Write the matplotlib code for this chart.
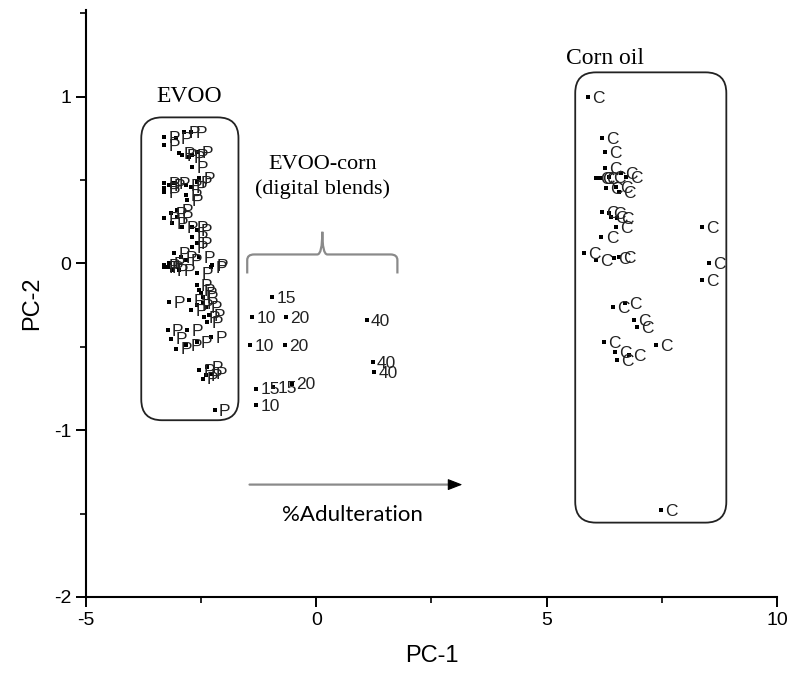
import numpy as np
import matplotlib
matplotlib.use("Agg")
import matplotlib.pyplot as plt
from matplotlib.patches import FancyBboxPatch, PathPatch
from matplotlib.path import Path
from matplotlib.ticker import MultipleLocator

plt.rcParams["axes.unicode_minus"] = False

# PCA scores: EVOO samples (P)
evoo_x = [-3.30, -3.30, -3.04, -2.87, -2.71,
          -2.97, -2.91, -2.76, -2.69, -2.58, -2.69,
          -3.30, -3.30, -3.30, -3.19, -3.08, -2.82, -2.71, -2.60, -2.54, -2.82, -2.80,
          -3.30, -3.15, -3.13, -3.02, -2.91, -2.69, -2.60, -3.02,
          -2.69, -2.60, -2.69,
          -3.08, -2.93, -2.82, -3.30, -3.19, -2.54, -2.28,
          -3.30, -3.23, -3.13, -2.97, -2.58, -2.26,
          -2.60, -2.54, -2.50, -2.47,
          -3.19, -2.76, -2.58, -2.47, -2.39, -2.71, -2.32, -2.37, -2.43,
          -3.23, -3.15, -2.80, -2.28, -3.04, -2.82, -2.60,
          -2.54, -2.47, -2.37, -2.28, -2.39,
          -2.21]
evoo_y = [0.76, 0.71, 0.75, 0.79, 0.79,
          0.66, 0.65, 0.64, 0.65, 0.67, 0.58,
          0.48, 0.45, 0.43, 0.47, 0.48, 0.47, 0.46, 0.49, 0.51, 0.41, 0.38,
          0.27, 0.30, 0.24, 0.28, 0.22, 0.22, 0.20, 0.32,
          0.16, 0.12, 0.10,
          0.06, 0.04, 0.02, -0.01, 0.00, 0.04, -0.02,
          -0.02, -0.02, -0.04, -0.04, -0.06, -0.01,
          -0.13, -0.16, -0.18, -0.20,
          -0.23, -0.22, -0.25, -0.24, -0.26, -0.28, -0.31, -0.35, -0.32,
          -0.40, -0.45, -0.40, -0.44, -0.51, -0.49, -0.47,
          -0.64, -0.69, -0.62, -0.66, -0.67,
          -0.88]

# PCA scores: corn oil samples (C)
corn_x = [5.90, 6.21, 6.27, 6.27, 6.08, 6.12, 6.19, 6.36, 6.62, 6.73,
          6.29, 6.51, 6.58, 6.21, 6.36, 6.40, 6.53, 6.51, 6.19, 8.38,
          5.82, 6.08, 6.47, 6.58, 8.53, 8.38,
          6.43, 6.69, 6.90, 6.97, 6.25, 6.49, 6.53, 6.79, 7.38, 7.49]
corn_y = [1.00, 0.75, 0.67, 0.57, 0.51, 0.51, 0.51, 0.52, 0.54, 0.52,
          0.45, 0.46, 0.43, 0.31, 0.30, 0.28, 0.27, 0.22, 0.16, 0.22,
          0.06, 0.02, 0.03, 0.04, 0.00, -0.10,
          -0.26, -0.24, -0.34, -0.38, -0.47, -0.53, -0.58, -0.55, -0.49, -1.48]

# digital EVOO-corn blends, labelled by % corn oil
blend_x = [-1.39, -1.43, -1.30, -0.96, -1.30, -0.93, -0.65, -0.69, -0.52, 1.09, 1.22, 1.26]
blend_y = [-0.32, -0.49, -0.85, -0.20, -0.75, -0.74, -0.32, -0.49, -0.72, -0.34, -0.59, -0.65]
blend_pct = ["10", "10", "10", "15", "15", "15", "20", "20", "20", "40", "40", "40"]

fig = plt.figure(figsize=(7.91, 6.84), dpi=100)
ax = fig.add_axes([0.1087, 0.1272, 0.8736, 0.8582])

sans = ["Liberation Sans", "DejaVu Sans"]
serif = ["Liberation Serif", "DejaVu Serif"]


def scores(xs, ys, labels):
    ax.scatter(xs, ys, marker="s", s=6, color="black", zorder=3, linewidths=0)
    for x, y, lab in zip(xs, ys, labels):
        ax.annotate(lab, (x, y), xytext=(3, -1), textcoords="offset points",
                    ha="left", va="center", fontsize=12.5, family=sans, color="#222222")


scores(evoo_x, evoo_y, ["P"] * len(evoo_x))
scores(corn_x, corn_y, ["C"] * len(corn_x))
scores(blend_x, blend_y, blend_pct)

ax.set_xlim(-5, 10)
ax.set_ylim(-2, 1.52)
ax.xaxis.set_major_locator(MultipleLocator(5))
ax.xaxis.set_minor_locator(MultipleLocator(2.5))
ax.yaxis.set_major_locator(MultipleLocator(1))
ax.yaxis.set_minor_locator(MultipleLocator(0.5))
for s in ["top", "right"]:
    ax.spines[s].set_visible(False)
for s in ["left", "bottom"]:
    ax.spines[s].set_linewidth(1.5)
ax.tick_params(which="major", direction="out", length=7, width=1.4, labelsize=14)
ax.tick_params(which="minor", direction="out", length=4, width=1.2)
for t in ax.get_xticklabels() + ax.get_yticklabels():
    t.set_family(sans)
ax.set_xlabel("PC-1", fontsize=17, family=sans, labelpad=12)
ax.set_ylabel("PC-2", fontsize=17, family=sans, labelpad=8)

# rounded group boxes (aspect corrected so corners look circular)
asp = (1 / 166.7) / (1 / 46.07)
for (x0, y0, x1, y1) in [(-3.80, -0.94, -1.69, 0.876), (5.62, -1.554, 8.90, 1.146)]:
    box = FancyBboxPatch((x0, y0), x1 - x0, y1 - y0,
                         boxstyle="round,pad=0,rounding_size=0.45",
                         mutation_aspect=asp, fill=False, ec="#222222", lw=1.3, zorder=2)
    ax.add_patch(box)

ax.text(-2.75, 1.0, "EVOO", family=serif, fontsize=17, ha="center", va="center")
ax.text(6.26, 1.23, "Corn oil", family=serif, fontsize=17, ha="center", va="center")
ax.text(0.13, 0.52, "EVOO-corn\n(digital blends)", family=serif, fontsize=16,
        ha="center", va="center", linespacing=1.35)

# curly brace over the blends
verts = [(-1.50, -0.06), (-1.50, 0.02), (-1.50, 0.054), (-1.35, 0.054),
         (0.02, 0.054), (0.13, 0.054), (0.13, 0.19), (0.13, 0.054), (0.24, 0.054),
         (1.61, 0.054), (1.76, 0.054), (1.76, 0.02), (1.76, -0.06)]
codes = [Path.MOVETO, Path.LINETO, Path.CURVE3, Path.CURVE3,
         Path.LINETO, Path.CURVE3, Path.CURVE3, Path.CURVE3, Path.CURVE3,
         Path.LINETO, Path.CURVE3, Path.CURVE3, Path.LINETO]
ax.add_patch(PathPatch(Path(verts, codes), fill=False, ec="#8a8a8a", lw=1.6))

# adulteration arrow: grey shaft, black head
ax.annotate("", xy=(3.0, -1.326), xytext=(-1.45, -1.326),
            arrowprops=dict(arrowstyle="-", color="#8a8a8a", lw=1.6, shrinkA=0, shrinkB=0))
ax.annotate("", xy=(3.17, -1.326), xytext=(2.9, -1.326),
            arrowprops=dict(arrowstyle="-|>,head_length=0.9,head_width=0.35",
                            color="black", lw=0.8, shrinkA=0, shrinkB=0))
ax.text(0.78, -1.51, "%Adulteration", family=["Lato", "DejaVu Sans"], fontsize=16,
        ha="center", va="center")

fig.savefig("out.png", dpi=100)
